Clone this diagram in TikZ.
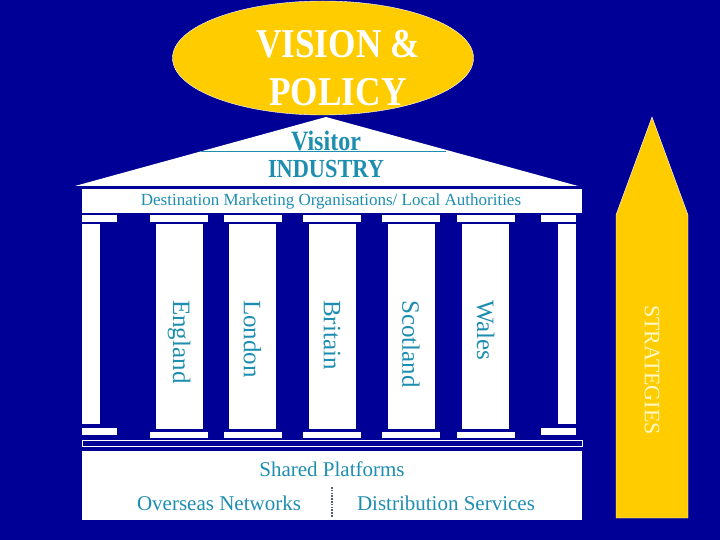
\documentclass[tikz,border=0pt]{standalone}
\usepackage{fontspec}
\setmainfont{Liberation Serif}
\newfontfamily\narrowserif[FakeStretch=0.86]{Liberation Serif}
\usepackage{tikz}
\usetikzlibrary{shapes.geometric, positioning}
\usepackage{xcolor}

\definecolor{bgblue}{RGB}{0,0,150}
\definecolor{gold}{RGB}{255,204,0}
\definecolor{tealtxt}{RGB}{30,142,176}
\definecolor{dotgrey}{RGB}{85,95,115}
\definecolor{paleyellow}{RGB}{255,250,200}

\begin{document}
\begin{tikzpicture}[x=1pt, y=-1pt,
        bubble/.style={ellipse, fill=gold, draw=white, thin, minimum width=301pt, minimum height=114pt},
        title/.style={align=center, text=white, inner sep=0pt, font=\narrowserif\bfseries\fontsize{41}{48}\selectfont},
        lbl/.style={text=tealtxt, inner sep=0pt},
        pillar/.style={lbl, rotate=-90, anchor=west, font=\fontsize{25}{30}\selectfont},
        slab/.style={fill=white}
    ]

        % background
        \fill[bgblue] (0,0) rectangle (720,540);

        % Vision bubble
        \node[bubble] (vision) at (323,58) {};
        \node[title] (visiontxt) at (338,68) {VISION \&\\POLICY};

        % roof
        \fill[white] (75,186) -- (326,117) -- (578,186) -- cycle;
        \draw[tealtxt, thin] (201,151) -- (446,151);
        \node[lbl, font=\narrowserif\bfseries\fontsize{28}{32}\selectfont] (visitor) at (326,141) {Visitor};
        \node[lbl, font=\narrowserif\bfseries\fontsize{26}{30}\selectfont] (industry) at (326,169) {INDUSTRY};

        % entablature
        \fill[white] (82,189) rectangle (582,213);
        \node[lbl, font=\fontsize{17}{20}\selectfont] (dmo) at (331,201) {Destination Marketing Organisations/ Local Authorities};

        % half columns at the ends
        \fill[slab] (82,215) rectangle (117,222);
        \fill[slab] (82,224) rectangle (100,424);
        \fill[slab] (82,428) rectangle (117,435);
        \fill[slab] (541,215) rectangle (576,222);
        \fill[slab] (558,224) rectangle (576,424);
        \fill[slab] (541,428) rectangle (576,435);

        % columns
        \foreach \cx/\nm/\txt in {179/england/England, 252.5/london/London, 332/britain/Britain, 411/scotland/Scotland, 485.5/wales/Wales} {
            \fill[slab] (\cx-29,215) rectangle (\cx+29,222);
            \fill[slab] (\cx-23.5,224) rectangle (\cx+23.5,429);
            \fill[slab] (\cx-29,432) rectangle (\cx+29,438);
            \node[pillar] (\nm) at (\cx,300) {\txt};
        }

        % stylobate and base
        \draw[white, fill=bgblue, thin] (82,440) rectangle (582,446);
        \fill[white] (82,451) rectangle (582,520);
        \node[lbl, font=\fontsize{21}{25}\selectfont] (shared) at (332,469) {Shared Platforms};
        \node[lbl, font=\fontsize{21}{25}\selectfont] (overseas) at (219,503) {Overseas Networks};
        \node[lbl, font=\fontsize{21}{25}\selectfont] (distrib) at (446,503) {Distribution Services};
        \coordinate (divtop) at (332,487);
        \coordinate (divbot) at (332,517);
        \draw[dotgrey, line width=1.8pt, dash pattern=on 1.6pt off 1.2pt] (divtop) -- (divbot);

        % strategies arrow
        \filldraw[fill=gold, draw=white, thin] (616,518) -- (616,215) -- (652,117) -- (688,215) -- (688,518) -- cycle;
        \node[rotate=-90, text=paleyellow, font=\fontsize{22}{26}\selectfont] (strat) at (652,370) {STRATEGIES};

\end{tikzpicture}
\end{document}
